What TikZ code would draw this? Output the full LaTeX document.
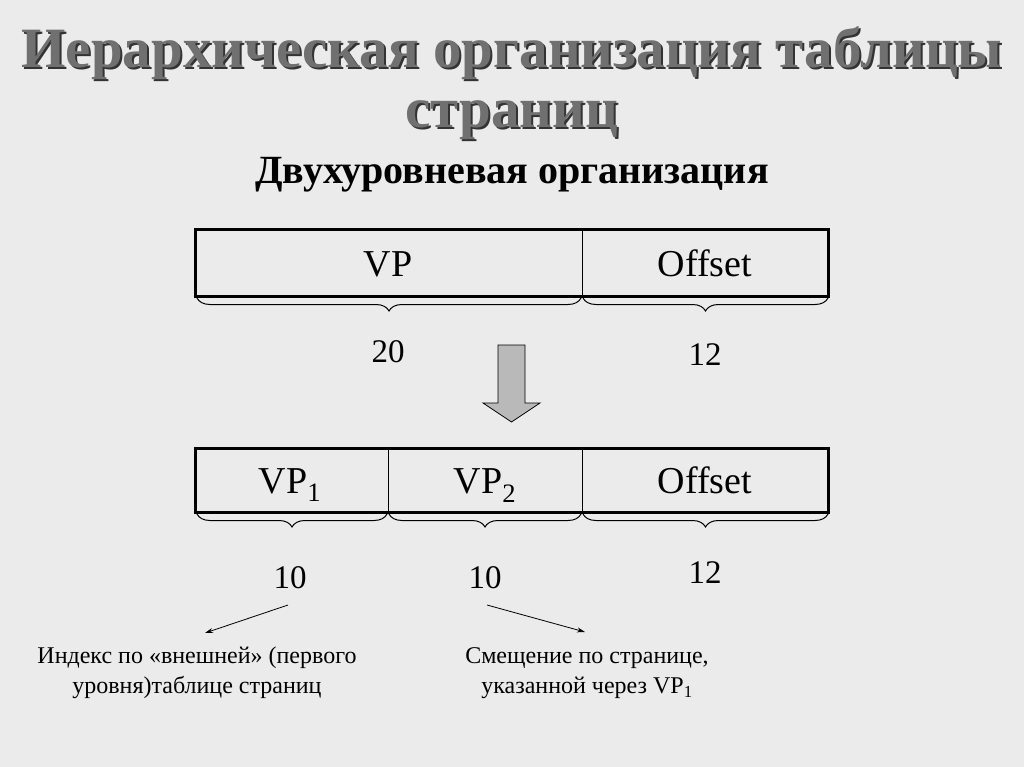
\documentclass[tikz,border=0pt]{standalone}
\usepackage{fontspec}
\setmainfont{Liberation Serif}
\usetikzlibrary{decorations.pathreplacing,arrows.meta}
\definecolor{bg}{HTML}{EBEBEB}
\definecolor{tgray}{HTML}{707070}
\begin{document}
\begin{tikzpicture}[x=1pt,y=-1pt,
  br/.style={decorate,decoration={brace,mirror,amplitude=13pt,aspect=0.5},line width=1pt},
  lbl/.style={font=\fontsize{33}{36}\selectfont},
  cell/.style={font=\fontsize{38}{40}\selectfont,text height=26pt,text depth=4pt},
  note/.style={font=\fontsize{24}{30}\selectfont,align=center},
  ttl/.style={font=\fontsize{57}{60}\selectfont\bfseries,anchor=base,inner sep=0pt}]
\fill[bg] (0,0) rectangle (1024,767);
\useasboundingbox (0,0) rectangle (1024,767);
% title with shadow
\node[ttl,text=black!80] at (514,70) {Иерархическая организация таблицы};
\node[ttl,text=tgray] (t1) at (512,68) {Иерархическая организация таблицы};
\node[ttl,text=black!80] at (514,130) {страниц};
\node[ttl,text=tgray] (t2) at (512,128) {страниц};
\node[font=\fontsize{40}{42}\selectfont\bfseries] (sub) at (512,175) {Двухуровневая организация};
% box 1
\draw[line width=3pt] (195,230) rectangle (828,296);
\draw[line width=1pt] (582,230) -- (582,296);
\node[cell] (vp) at (388,265) {VP};
\node[cell] (off1) at (705,265) {Offset};
\draw[br] (197,298) -- (581,298);
\draw[br] (583,298) -- (828,298);
\node[lbl] (n20) at (388,352) {20};
\node[lbl] (n12a) at (705,355) {12};
% arrow
\draw[fill=gray!55,line width=0.8pt] (498,345) -- (525,345) -- (525,403) -- (540,403) -- (511.5,422) -- (483,403) -- (498,403) -- cycle;
% box 2
\draw[line width=3pt] (195,448) rectangle (828,512);
\draw[line width=1pt] (388,448) -- (388,512) (582,448) -- (582,512);
\node[cell] (vp1) at (290,482) {VP\textsubscript{1}};
\node[cell] (vp2) at (485,482) {VP\textsubscript{2}};
\node[cell] (off2) at (705,482) {Offset};
\draw[br] (197,514) -- (387,514);
\draw[br] (389,514) -- (581,514);
\draw[br] (583,514) -- (828,514);
\node[lbl] (a10) at (290,578) {10};
\node[lbl] (b10) at (485,578) {10};
\node[lbl] (n12b) at (705,573) {12};
\node[note] (na) at (197,673) {Индекс по «внешней» (первого\\уровня)таблице страниц};
\node[note] (nb) at (587,673) {Смещение по странице,\\указанной через VP\textsubscript{1}};
\coordinate (ea) at (205,633);
\coordinate (eb) at (585,632);
\draw[-{Stealth[length=8pt,width=5pt]},line width=0.8pt] (288,605) -- (ea);
\draw[-{Stealth[length=8pt,width=5pt]},line width=0.8pt] (487,605) -- (eb);
\end{tikzpicture}
\end{document}
